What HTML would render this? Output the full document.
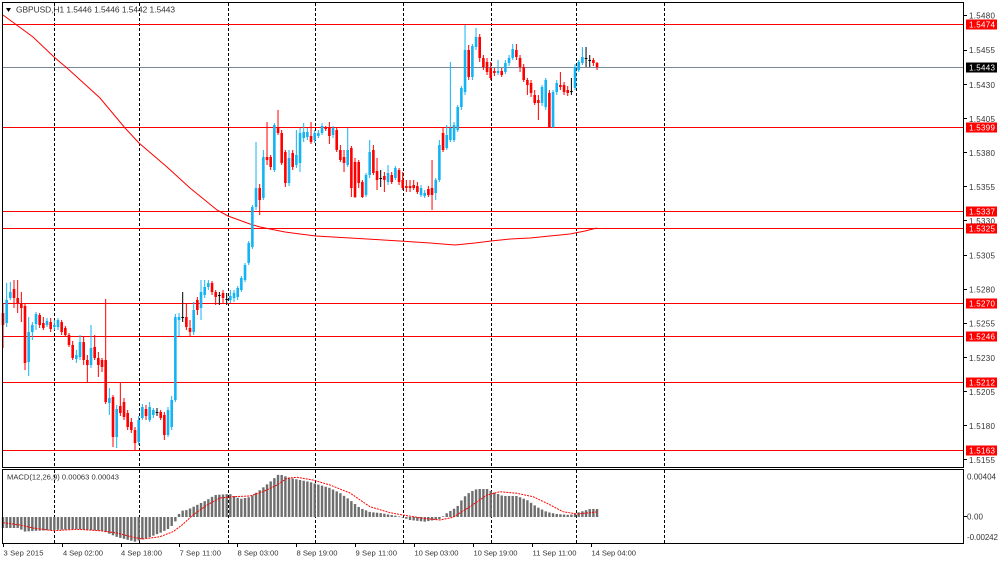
<!DOCTYPE html>
<html>
<head>
<meta charset="utf-8">
<style>
html,body{margin:0;padding:0;background:#fff;overflow:hidden;width:1000px;height:561px;}
svg{display:block;}
text{font-family:"Liberation Sans","DejaVu Sans",sans-serif;}
</style>
</head>
<body>
<svg id="c" width="1000" height="561" viewBox="0 0 1000 561" xmlns="http://www.w3.org/2000/svg">
<rect x="0" y="0" width="1000" height="561" fill="#fff"/>

<!-- vertical dashed grid -->
<g stroke="#000" stroke-width="1" stroke-dasharray="3,2">
<line x1="54.5" y1="3" x2="54.5" y2="467"/><line x1="54.5" y1="470" x2="54.5" y2="543"/>
<line x1="139.5" y1="3" x2="139.5" y2="467"/><line x1="139.5" y1="470" x2="139.5" y2="543"/>
<line x1="228.5" y1="3" x2="228.5" y2="467"/><line x1="228.5" y1="470" x2="228.5" y2="543"/>
<line x1="315.5" y1="3" x2="315.5" y2="467"/><line x1="315.5" y1="470" x2="315.5" y2="543"/>
<line x1="403.5" y1="3" x2="403.5" y2="467"/><line x1="403.5" y1="470" x2="403.5" y2="543"/>
<line x1="491.5" y1="3" x2="491.5" y2="467"/><line x1="491.5" y1="470" x2="491.5" y2="543"/>
<line x1="576.5" y1="3" x2="576.5" y2="467"/><line x1="576.5" y1="470" x2="576.5" y2="543"/>
<line x1="664.5" y1="3" x2="664.5" y2="467"/><line x1="664.5" y1="470" x2="664.5" y2="543"/>
</g>

<!-- horizontal levels -->
<g stroke="#ff0000" stroke-width="1">
<line x1="2" y1="24.5" x2="963" y2="24.5"/>
<line x1="2" y1="127.5" x2="963" y2="127.5"/>
<line x1="2" y1="211.5" x2="963" y2="211.5"/>
<line x1="2" y1="228.5" x2="963" y2="228.5"/>
<line x1="2" y1="303.5" x2="963" y2="303.5"/>
<line x1="2" y1="336.5" x2="963" y2="336.5"/>
<line x1="2" y1="382.5" x2="963" y2="382.5"/>
<line x1="2" y1="450.5" x2="963" y2="450.5"/>
</g>
<line x1="2" y1="67.5" x2="963" y2="67.5" stroke="#778899" stroke-width="1"/>

<!-- moving average -->
<polyline fill="none" stroke="#ff0000" stroke-width="1" points="3,15 33,37 54,57 67,68 100,98 125,128 139,143 167,167 190,188 217,210 228,216 250,224 260,227 285,232 300,234 316,236 350,238 400,241 430,243 455,245 475,243 491,241 510,239 530,238 550,236 570,234 585,231 597,228"/>

<g id="candles"></g>
<g id="hist"></g>

<!-- MACD signal -->
<polyline fill="none" stroke="#ff0000" stroke-width="1" stroke-dasharray="2,1" points="3,522.7 20,525 33,528 53,530.7 77,529.3 100,530.7 117,533 133,537.3 143,539 160,536.7 173,531.7 182,525 193,515 207,505 220,498 233,496.7 250,496 263,491.7 277,485 287,478.3 297,477.3 313,480 330,485 350,493 370,506.7 390,512.7 403,515 423,518.3 440,520 453,517.3 470,506.7 487,495 500,491.7 517,493.3 533,496.7 547,503.3 563,511.7 577,514 590,512.7 598,511.7"/>

<!-- frames -->
<g fill="none" stroke="#000" stroke-width="1">
<rect x="2.5" y="2.5" width="961" height="465"/>
<rect x="2.5" y="469.5" width="961" height="74"/>
</g>

<!-- header -->
<polygon points="6,8 11,8 8.5,12" fill="#000"/>
<text x="16" y="12.5" font-size="8.4" fill="#333" textLength="159" lengthAdjust="spacing">GBPUSD,H1  1.5446 1.5446 1.5442 1.5443</text>
<text x="7" y="479.5" font-size="7.6" fill="#333" textLength="112" lengthAdjust="spacing">MACD(12,26,9) 0.00063 0.00043</text>

<!-- price axis ticks -->
<g stroke="#000" stroke-width="1">
<line x1="963" y1="15.5" x2="967" y2="15.5"/>
<line x1="963" y1="50.5" x2="967" y2="50.5"/>
<line x1="963" y1="84.5" x2="967" y2="84.5"/>
<line x1="963" y1="118.5" x2="967" y2="118.5"/>
<line x1="963" y1="152.5" x2="967" y2="152.5"/>
<line x1="963" y1="186.5" x2="967" y2="186.5"/>
<line x1="963" y1="220.5" x2="967" y2="220.5"/>
<line x1="963" y1="255.5" x2="967" y2="255.5"/>
<line x1="963" y1="289.5" x2="967" y2="289.5"/>
<line x1="963" y1="323.5" x2="967" y2="323.5"/>
<line x1="963" y1="357.5" x2="967" y2="357.5"/>
<line x1="963" y1="391.5" x2="967" y2="391.5"/>
<line x1="963" y1="425.5" x2="967" y2="425.5"/>
<line x1="963" y1="459.5" x2="967" y2="459.5"/>
<line x1="963" y1="516.5" x2="967" y2="516.5"/>
</g>
<g font-size="8" fill="#333">
<text x="969" y="18.5" textLength="26">1.5480</text>
<text x="969" y="53" textLength="26">1.5455</text>
<text x="969" y="88" textLength="26">1.5430</text>
<text x="969" y="122" textLength="26">1.5405</text>
<text x="969" y="156" textLength="26">1.5380</text>
<text x="969" y="190" textLength="26">1.5355</text>
<text x="969" y="224" textLength="26">1.5330</text>
<text x="969" y="258.5" textLength="26">1.5305</text>
<text x="969" y="292.5" textLength="26">1.5280</text>
<text x="969" y="326.5" textLength="26">1.5255</text>
<text x="969" y="361" textLength="26">1.5230</text>
<text x="969" y="395" textLength="26">1.5205</text>
<text x="969" y="429" textLength="26">1.5180</text>
<text x="969" y="463" textLength="26">1.5155</text>
<text x="967" y="479.5" textLength="29">0.00404</text>
<text x="967" y="519.5" textLength="16">0.00</text>
<text x="967" y="540" textLength="31">-0.00242</text>
</g>

<!-- price label boxes -->
<g fill="#ff0000">
<rect x="966" y="19.5" width="31" height="10"/>
<rect x="966" y="122.5" width="31" height="10"/>
<rect x="966" y="206.5" width="31" height="10"/>
<rect x="966" y="223.5" width="31" height="10"/>
<rect x="966" y="298.5" width="31" height="10"/>
<rect x="966" y="331.5" width="31" height="10"/>
<rect x="966" y="377.5" width="31" height="10"/>
<rect x="966" y="445.5" width="31" height="10"/>
</g>
<rect x="966" y="62.5" width="31" height="10" fill="#000"/>
<g font-size="8" fill="#fff">
<text x="969" y="27.5" textLength="26">1.5474</text>
<text x="969" y="70.5" textLength="26">1.5443</text>
<text x="969" y="130.5" textLength="26">1.5399</text>
<text x="969" y="214.5" textLength="26">1.5337</text>
<text x="969" y="231.5" textLength="26">1.5325</text>
<text x="969" y="306.5" textLength="26">1.5270</text>
<text x="969" y="339.5" textLength="26">1.5246</text>
<text x="969" y="385.5" textLength="26">1.5212</text>
<text x="969" y="453.5" textLength="26">1.5163</text>
</g>

<!-- time axis -->
<g stroke="#000" stroke-width="1">
<line x1="3.5" y1="543" x2="3.5" y2="547"/>
<line x1="62.5" y1="543" x2="62.5" y2="547"/>
<line x1="121.5" y1="543" x2="121.5" y2="547"/>
<line x1="179.5" y1="543" x2="179.5" y2="547"/>
<line x1="237.5" y1="543" x2="237.5" y2="547"/>
<line x1="296.5" y1="543" x2="296.5" y2="547"/>
<line x1="355.5" y1="543" x2="355.5" y2="547"/>
<line x1="414.5" y1="543" x2="414.5" y2="547"/>
<line x1="473.5" y1="543" x2="473.5" y2="547"/>
<line x1="532.5" y1="543" x2="532.5" y2="547"/>
<line x1="591.5" y1="543" x2="591.5" y2="547"/>
</g>
<g font-size="7.6" fill="#333">
<text x="3.5" y="555.5" textLength="40">3 Sep 2015</text>
<text x="63" y="555.5" textLength="40">4 Sep 02:00</text>
<text x="121" y="555.5" textLength="41">4 Sep 18:00</text>
<text x="179.5" y="555.5" textLength="41.5">7 Sep 11:00</text>
<text x="237.5" y="555.5" textLength="41">8 Sep 03:00</text>
<text x="296.5" y="555.5" textLength="41">8 Sep 19:00</text>
<text x="355.5" y="555.5" textLength="41.5">9 Sep 11:00</text>
<text x="414.5" y="555.5" textLength="44">10 Sep 03:00</text>
<text x="473.5" y="555.5" textLength="44">10 Sep 19:00</text>
<text x="532.5" y="555.5" textLength="44">11 Sep 11:00</text>
<text x="591.5" y="555.5" textLength="44.5">14 Sep 04:00</text>
</g>
</svg>

<script>
(function(){
var D=[
[313,325,303,348,'r'],[300,323,283,327,'b'],[292,298,282,300,'b'],[289,298,280,308,'r'],[298,303,280,313,'r'],
[303,308,292,322,'r'],[306,363,303,370,'r'],[332,362,317,376,'b'],[325,332,322,340,'b'],[314,324,312,330,'b'],
[315,325,313,328,'r'],[323,328,317,330,'r'],[321,325,318,327,'b'],[322,329,318,332,'r'],[325,327,320,330,'b'],
[320,327,318,330,'b'],[322,332,320,335,'r'],[328,335,326,337,'r'],[335,345,333,347,'r'],[345,358,341,360,'r'],
[355,359,350,363,'b'],[342,357,335,360,'b'],[342,360,337,365,'r'],[360,365,355,383,'r'],[348,365,325,368,'b'],
[347,358,335,360,'r'],[358,365,352,377,'r'],[360,367,358,372,'r'],[360,402,299,404,'r'],[398,403,388,415,'b'],
[397,437,395,447,'r'],[409,437,405,448,'b'],[406,413,383,416,'r'],[402,417,398,420,'r'],[413,427,410,430,'r'],
[422,430,418,433,'r'],[430,443,427,450,'r'],[420,442,416,445,'b'],[407,418,404,420,'b'],[409,416,405,420,'r'],
[407,420,402,422,'b'],
[410,415,408,418,'b'],[412,413,408,416,'k'],[412,418,410,420,'r'],[415,435,412,440,'r'],[410,435,407,437,'b'],
[400,427,396,430,'b'],[317,400,314,402,'b'],[317,320,313,336,'b'],[317,318,292,322,'k'],[317,327,303,330,'r'],
[328,332,320,337,'r'],[310,332,302,335,'b'],[300,310,297,315,'r'],[292,308,280,320,'b'],[287,295,280,298,'b'],
[283,287,280,290,'b'],[283,292,281,295,'r'],[292,297,290,305,'r'],[295,296,292,305,'k'],[293,298,290,303,'r'],
[299,300,293,305,'k'],[296,300,290,303,'b'],[293,298,290,302,'b'],[288,297,286,300,'b'],[278,290,276,292,'b'],
[265,280,263,282,'b'],[243,263,241,265,'b'],[207,247,205,249,'b'],[188,207,142,210,'b'],[188,200,184,215,'r'],
[157,198,150,200,'b'],[157,160,122,165,'r'],[157,167,155,170,'r'],[125,170,123,172,'b'],[128,133,110,135,'r'],
[133,163,130,165,'r'],[152,183,150,187,'r'],[158,183,150,186,'b'],[153,167,150,170,'r'],[155,165,130,168,'b'],
[133,163,128,172,'b'],[132,138,123,142,'b'],[132,137,128,140,'b'],[136,142,122,144,'r'],[133,140,130,143,'b'],
[133,136,130,138,'b'],[126,133,123,135,'b'],[128,129,126,131,'r'],[127,136,122,144,'r'],[128,135,126,138,'b'],
[130,150,128,152,'r'],[150,160,145,162,'r'],[157,163,150,172,'r'],[150,165,128,167,'b'],[148,188,146,197,'r'],
[162,197,158,198,'r'],[162,183,160,188,'r'],[182,197,180,198,'r'],[175,195,173,197,'b'],[152,175,140,178,'b'],
[150,173,145,175,'r'],[171,180,158,190,'r'],[178,179,170,187,'k'],[176,180,172,192,'r'],[173,182,165,185,'b'],
[175,182,172,184,'r'],[168,178,166,180,'b'],[170,182,168,185,'r'],[180,188,172,190,'r'],[186,188,180,192,'r'],
[186,188,180,192,'r'],[185,188,180,190,'r'],[186,192,182,194,'r'],[188,195,185,197,'b'],[193,196,190,198,'b'],
[189,195,186,197,'r'],[188,195,160,210,'r'],[180,193,178,200,'b'],[145,180,140,182,'b'],[133,150,128,152,'r'],
[135,148,125,150,'b'],
[128,140,62,142,'b'],[125,140,122,142,'b'],[107,130,105,132,'b'],[88,107,86,110,'b'],[50,92,25,95,'b'],
[50,77,45,80,'r'],[46,77,44,80,'b'],[37,47,28,50,'b'],[37,58,34,62,'r'],[58,67,55,70,'r'],
[62,72,58,75,'r'],[68,78,62,80,'r'],[71,73,68,76,'r'],[71,73,60,75,'b'],[71,75,68,77,'r'],
[63,72,60,74,'b'],[58,63,55,66,'b'],[49,58,44,60,'b'],[50,57,44,60,'r'],[58,67,55,72,'r'],
[67,80,64,82,'r'],[80,85,78,95,'r'],[83,93,80,97,'r'],[95,103,90,105,'r'],[100,103,95,120,'r'],
[87,103,85,106,'b'],[80,107,78,110,'b'],[93,127,90,128,'r'],[92,127,90,128,'b'],[83,92,80,95,'b'],
[85,87,72,90,'r'],[85,92,82,95,'r'],[90,93,86,96,'r'],[91,92,78,95,'k'],[67,88,64,90,'b'],
[62,70,60,72,'b'],[57,63,47,65,'b'],[58,59,47,67,'k'],[60,61,55,67,'k'],[60,63,58,66,'r'],
[63,67,62,70,'r']
];
var col={b:'#14b4f4',r:'#ff0000',k:'#000000'};
var x0=3,dx=3.667,s='';
for(var i=0;i<D.length;i++){
  var d=D[i],x=x0+dx*i,c=col[d[4]];
  s+='<rect x="'+(x-0.5).toFixed(2)+'" y="'+d[2]+'" width="1" height="'+(d[3]-d[2])+'" fill="'+c+'"/>';
  var h=Math.max(1,d[1]-d[0]);
  s+='<rect x="'+(x-1.3).toFixed(2)+'" y="'+d[0]+'" width="2.6" height="'+h+'" fill="'+c+'"/>';
}
document.getElementById('candles').innerHTML=s;

var H=[[3,528],[20,528],[23,531.7],[33,531],[53,530],[77,529],[103,531],[117,537],[135,541.7],[140,540],[150,537],[160,533],[170,528],[175,522],[178,517],[180,511],[187,510],[207,500],[215,495],[230,494],[240,499],[250,497],[260,490],[270,482],[279,474],[290,478],[310,482],[330,488],[340,493],[350,500],[360,508],[370,512],[380,513],[397,516],[403,517.5],[410,520],[425,521.7],[440,519],[447,513],[457,507],[463,498],[470,492],[477,489],[487,489],[493,492],[503,496],[517,496],[527,500],[537,507],[547,512],[557,514],[570,515],[580,512],[590,509],[598,509]];
function interp(x){
  if(x<=H[0][0])return H[0][1];
  for(var k=1;k<H.length;k++){
    if(x<=H[k][0]){var a=H[k-1],b=H[k];return a[1]+(b[1]-a[1])*(x-a[0])/(b[0]-a[0]);}
  }
  return H[H.length-1][1];
}
var z=517,t='';
for(var j=0;j<D.length;j++){
  var hx=x0+dx*j,y=interp(hx),top=Math.min(y,z),ht=Math.abs(y-z);
  if(ht<0.6)ht=0.6;
  t+='<rect x="'+(hx-1.2).toFixed(2)+'" y="'+top.toFixed(2)+'" width="2.4" height="'+ht.toFixed(2)+'" fill="#6e6e6e"/>';
}
document.getElementById('hist').innerHTML=t;
})();
</script>
</body>
</html>
